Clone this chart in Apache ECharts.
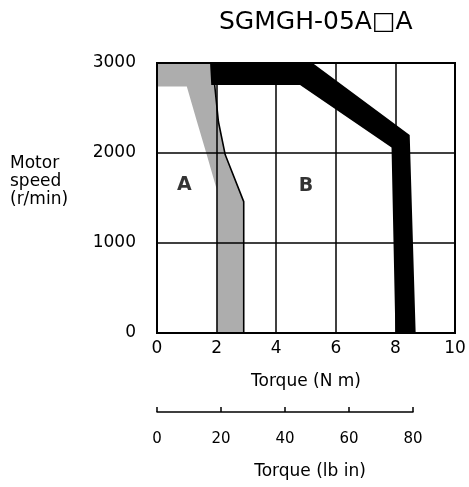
<!DOCTYPE html>
<html>
<head>
<meta charset="utf-8">
<script src="https://cdn.jsdelivr.net/npm/echarts@6/dist/echarts.min.js"></script>
<style>
html,body{margin:0;padding:0;background:#fff;}
#c{width:469px;height:487px;}
</style>
</head>
<body>
<div id="c"></div>
<script>
// ---- data ----
const titleText = 'SGMGH-05A\u25A1A';
const torqueTicks = [0, 2, 4, 6, 8, 10];
const speedTicks = [0, 1000, 2000, 3000];
const lbTicks = [0, 20, 40, 60, 80];

// Continuous duty zone (A) band – torque (N·m), speed (r/min)
const grayTorque = [0, 1.78, 1.9, 2.06, 2.29, 2.91, 2.91, 2.0, 2.0, 1.67, 1.34, 1.0, 0];
const graySpeed  = [3000, 3000, 2870, 2350, 1980, 1460, 0, 0, 1600, 1980, 2350, 2740, 2740];

// Boundary line of zone A
const lineTorque = [1.85, 1.9, 2.06, 2.29, 2.91, 2.91];
const lineSpeed  = [3000, 2870, 2350, 1980, 1460, 0];

// Intermittent duty zone (B) band
const blackTorque = [1.78, 5.22, 8.48, 8.68, 8.0, 7.87, 4.8, 1.82];
const blackSpeed  = [3000, 3000, 2200, 0, 0, 2060, 2756, 2756];

// Zone labels
const zoneLabels = [[0.92, 1640, 'A'], [5.0, 1630, 'B']];

const FONT = 'DejaVu Sans';

function polygonSeries(xs, ys, fill, z) {
  return {
    type: 'custom',
    coordinateSystem: 'cartesian2d',
    xAxisIndex: 0, yAxisIndex: 0,
    z: z, silent: true, clip: true,
    data: xs.map((x, i) => [x, ys[i]]),
    renderItem: function (params, api) {
      if (params.dataIndex !== 0) return null;
      const pts = xs.map((x, i) => api.coord([x, ys[i]]));
      return { type: 'polygon', shape: { points: pts }, style: { fill: fill } };
    }
  };
}

const chart = echarts.init(document.getElementById('c'), null, { renderer: 'canvas' });
chart.setOption({
  animation: false,
  backgroundColor: '#fff',
  title: {
    text: titleText, left: 214, top: 5,
    textStyle: { fontFamily: FONT, fontSize: 25, fontWeight: 'normal', color: '#000' }
  },
  graphic: [{
    type: 'text', left: 10, top: 155,
    style: { text: 'Motor\nspeed\n(r/min)', font: '17px "DejaVu Sans"', fill: '#000', lineHeight: 18 }
  }],
  grid: [
    { left: 157, top: 63, width: 298, height: 270, show: true, borderColor: '#000', borderWidth: 2 },
    { left: 157, top: 411, width: 256, height: 1 }
  ],
  xAxis: [{
    gridIndex: 0, type: 'value', min: torqueTicks[0], max: torqueTicks[torqueTicks.length - 1], interval: 2,
    axisLine: { show: true, lineStyle: { color: '#000', width: 2 } },
    axisTick: { show: false },
    splitLine: { show: true, lineStyle: { color: '#000', width: 1.5 } },
    axisLabel: { color: '#000', fontFamily: FONT, fontSize: 17, margin: 7, formatter: v => String(v) },
    name: 'Torque (N m)', nameLocation: 'middle', nameGap: 40,
    nameTextStyle: { color: '#000', fontFamily: FONT, fontSize: 17 }
  }, {
    gridIndex: 1, type: 'value', min: lbTicks[0], max: lbTicks[lbTicks.length - 1], interval: 20,
    axisLine: { show: true, lineStyle: { color: '#000', width: 1.5 } },
    axisTick: { show: true, inside: true, length: 5, lineStyle: { color: '#000', width: 1.5 } },
    splitLine: { show: false },
    axisLabel: { color: '#000', fontFamily: FONT, fontSize: 15, margin: 20, formatter: v => String(v) },
    name: 'Torque (lb in)', nameLocation: 'middle', nameGap: 51,
    nameTextStyle: { color: '#000', fontFamily: FONT, fontSize: 17, padding: [0, 0, 0, 50] }
  }],
  yAxis: [{
    gridIndex: 0, type: 'value', min: speedTicks[0], max: speedTicks[speedTicks.length - 1], interval: 1000,
    axisLine: { show: true, lineStyle: { color: '#000', width: 2 } },
    axisTick: { show: false },
    splitLine: { show: true, lineStyle: { color: '#000', width: 1.5 } },
    axisLabel: { color: '#000', fontFamily: FONT, fontSize: 17, margin: 21, formatter: v => String(v) }
  }, {
    gridIndex: 1, type: 'value', show: false
  }],
  series: [
    polygonSeries(grayTorque, graySpeed, 'rgba(0,0,0,0.32)', 2),
    {
      type: 'line', xAxisIndex: 0, yAxisIndex: 0, z: 3, silent: true,
      data: lineTorque.map((x, i) => [x, lineSpeed[i]]),
      showSymbol: false, symbol: 'none',
      lineStyle: { color: '#000', width: 1.6 }
    },
    polygonSeries(blackTorque, blackSpeed, '#000', 4),
    {
      type: 'scatter', xAxisIndex: 0, yAxisIndex: 0, z: 5, silent: true,
      symbolSize: 0,
      data: zoneLabels,
      label: {
        show: true, position: 'inside', formatter: p => p.data[2],
        color: '#000', fontFamily: FONT, fontSize: 19, fontWeight: 'bold'
      }
    }
  ]
});
</script>
</body>
</html>
